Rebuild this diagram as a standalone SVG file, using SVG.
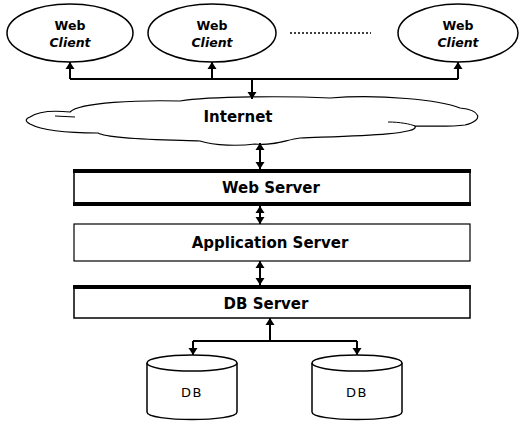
<svg xmlns="http://www.w3.org/2000/svg" width="521" height="425" viewBox="0 0 521 425">
<style>
.ell{fill:#fff;stroke:#000;stroke-width:1.5}
.t{font-family:"DejaVu Sans",Verdana,sans-serif;font-weight:bold;fill:#000;text-anchor:middle}
.ci{font-style:italic}
.box{fill:#fff;stroke:#000}
.c{fill:none;stroke:#000;stroke-width:2}
.db{fill:#fff;stroke:#000;stroke-width:1.5}
.dbt{font-family:"DejaVu Sans",Verdana,sans-serif;font-size:13px;text-anchor:middle;letter-spacing:1.5px}
</style>
<defs>
<marker id="ah" markerUnits="userSpaceOnUse" markerWidth="7" markerHeight="10" refX="7" refY="5" orient="auto-start-reverse" viewBox="0 0 7 10">
<path d="M0,0.5 L7,5 L0,9.5 Z" fill="#000"/>
</marker>
</defs>
<rect width="521" height="425" fill="#fff"/>
<g id="client1">
<ellipse class="ell" cx="70" cy="33" rx="63" ry="29"/>
<text class="t" x="70" y="30" font-size="12.5">Web</text>
<text class="t ci" x="70" y="47" font-size="12.5">Client</text>
</g>
<g id="client2">
<ellipse class="ell" cx="212" cy="33" rx="64" ry="29"/>
<text class="t" x="212" y="30" font-size="12.5">Web</text>
<text class="t ci" x="212" y="47" font-size="12.5">Client</text>
</g>
<g id="dots">
<line x1="290" y1="33" x2="371" y2="33" stroke="#000" stroke-width="1.5" stroke-dasharray="2,2"/>
</g>
<g id="client3">
<ellipse class="ell" cx="458" cy="33" rx="60" ry="29"/>
<text class="t" x="458" y="30" font-size="12.5">Web</text>
<text class="t ci" x="458" y="47" font-size="12.5">Client</text>
</g>
<g id="internet">
<path d="M30,117 C40,110 60,111 70,112 C80,102 140,100 180,101 C210,96 290,96 330,98 C380,94 440,100 460,108 C480,110 485,120 465,125 C450,127 430,126 415,126 C420,135 350,136 300,138 C285,140 275,146 255,144 C240,146 215,146 200,141 C180,140 110,140 98,133 C75,133 45,132 30,124 C25,121 25,119 30,117 Z" fill="#fff" stroke="#000" stroke-width="1.2"/>
<path d="M388,122 C400,122 410,124 415,126" fill="none" stroke="#000" stroke-width="1"/>
<path d="M55,116 L75,117" fill="none" stroke="#000" stroke-width="1"/>
<text class="t" x="238" y="122" font-size="15">Internet</text>
</g>
<g id="webserver">
<rect class="box" x="74" y="171" width="396" height="33" stroke-width="1.5"/>
<rect x="73" y="169" width="398" height="4" fill="#000"/>
<rect x="73" y="202" width="398" height="4" fill="#000"/>
<text class="t" x="271" y="193" font-size="15">Web Server</text>
</g>
<g id="appserver">
<rect class="box" x="74" y="224" width="396" height="37" stroke-width="1.2"/>
<text class="t" x="270" y="248" font-size="15">Application Server</text>
</g>
<g id="dbserver">
<rect class="box" x="74" y="287" width="396" height="31" stroke-width="1.5"/>
<rect x="73" y="285" width="398" height="4" fill="#000"/>
<text class="t" x="266" y="309" font-size="15">DB Server</text>
</g>
<g id="db1">
<path class="db" d="M147,363 V412 C147,422 237,422 237,412 V363"/>
<ellipse class="db" cx="192" cy="363" rx="45" ry="8"/>
<text class="dbt" x="192" y="397">DB</text>
</g>
<g id="db2">
<path class="db" d="M312,363 V412 C312,422 402,422 402,412 V363"/>
<ellipse class="db" cx="357" cy="363" rx="45" ry="8"/>
<text class="dbt" x="357" y="397">DB</text>
</g>
<g id="connectors">
<path class="c" d="M70,79 H458"/>
<path class="c" d="M70,79 V62" marker-end="url(#ah)"/>
<path class="c" d="M212,79 V62" marker-end="url(#ah)"/>
<path class="c" d="M458,79 V62" marker-end="url(#ah)"/>
<path class="c" d="M252,79 V99" marker-end="url(#ah)"/>
<path class="c" d="M260,143 V169" marker-start="url(#ah)" marker-end="url(#ah)"/>
<path class="c" d="M260,206 V224" marker-start="url(#ah)" marker-end="url(#ah)"/>
<path class="c" d="M260,261 V285" marker-start="url(#ah)" marker-end="url(#ah)"/>
<path class="c" d="M193,341 H357"/>
<path class="c" d="M270,341 V318" marker-end="url(#ah)"/>
<path class="c" d="M193,341 V355" marker-end="url(#ah)"/>
<path class="c" d="M357,341 V355" marker-end="url(#ah)"/>
</g>
</svg>
